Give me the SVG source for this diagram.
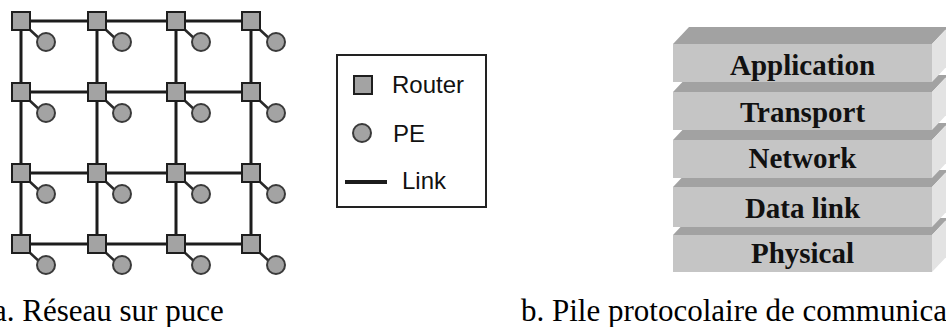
<svg xmlns="http://www.w3.org/2000/svg" width="946" height="327" viewBox="0 0 946 327">
<defs>
<style>
.link{stroke:#1c1c1c;stroke-width:3;fill:none}
.pel{stroke:#2a2a2a;stroke-width:2.5;fill:none}
.rt{fill:#a3a3a3;stroke:#1e1e1e;stroke-width:2}
.pe{fill:#a3a3a3;stroke:#3a3a3a;stroke-width:2}
.lg{font-family:"Liberation Sans",Arial,sans-serif;font-size:24px;fill:#111}
.cap{font-family:"Liberation Serif","Times New Roman",serif;font-size:31px;fill:#000}
.front{fill:#c5c5c5}
.top{fill:#a2a2a2}
.side{fill:#e3e3e3}
.lt{font-family:"Liberation Serif","Times New Roman",serif;font-size:29px;font-weight:bold;fill:#111;text-anchor:middle}
</style>
</defs>
<rect width="946" height="327" fill="#fff"/>
<g id="connectors">
<path class="link" d="M21 21H251M21 92H251M21 173H251M21 244H251M21 21V244M97 21V244M176 21V244M251 21V244"/>
<path class="pel" d="M28 28L41 40M104 28L117 40M183 28L196 40M258 28L271 40M28 99L41 111M104 99L117 111M183 99L196 111M258 99L271 111M28 180L41 192M104 180L117 192M183 180L196 192M258 180L271 192M28 251L41 263M104 251L117 263M183 251L196 263M258 251L271 263"/>
</g>
<g id="pes">
<circle class="pe" cx="46" cy="42" r="9"/><circle class="pe" cx="122" cy="42" r="9"/><circle class="pe" cx="201" cy="42" r="9"/><circle class="pe" cx="276" cy="42" r="9"/>
<circle class="pe" cx="46" cy="113" r="9"/><circle class="pe" cx="122" cy="113" r="9"/><circle class="pe" cx="201" cy="113" r="9"/><circle class="pe" cx="276" cy="113" r="9"/>
<circle class="pe" cx="46" cy="194" r="9"/><circle class="pe" cx="122" cy="194" r="9"/><circle class="pe" cx="201" cy="194" r="9"/><circle class="pe" cx="276" cy="194" r="9"/>
<circle class="pe" cx="46" cy="265" r="9"/><circle class="pe" cx="122" cy="265" r="9"/><circle class="pe" cx="201" cy="265" r="9"/><circle class="pe" cx="276" cy="265" r="9"/>
</g>
<g id="routers">
<rect class="rt" x="12" y="12" width="18" height="18"/><rect class="rt" x="88" y="12" width="18" height="18"/><rect class="rt" x="167" y="12" width="18" height="18"/><rect class="rt" x="242" y="12" width="18" height="18"/>
<rect class="rt" x="12" y="83" width="18" height="18"/><rect class="rt" x="88" y="83" width="18" height="18"/><rect class="rt" x="167" y="83" width="18" height="18"/><rect class="rt" x="242" y="83" width="18" height="18"/>
<rect class="rt" x="12" y="164" width="18" height="18"/><rect class="rt" x="88" y="164" width="18" height="18"/><rect class="rt" x="167" y="164" width="18" height="18"/><rect class="rt" x="242" y="164" width="18" height="18"/>
<rect class="rt" x="12" y="235" width="18" height="18"/><rect class="rt" x="88" y="235" width="18" height="18"/><rect class="rt" x="167" y="235" width="18" height="18"/><rect class="rt" x="242" y="235" width="18" height="18"/>
</g>
<g id="legend">
<rect x="337" y="55" width="149" height="152" fill="#fff" stroke="#222" stroke-width="2"/>
<rect class="rt" x="354" y="76" width="18" height="18"/>
<text class="lg" x="392" y="93">Router</text>
<circle class="pe" cx="362" cy="133" r="9"/>
<text class="lg" x="393" y="142">PE</text>
<line x1="345" y1="182" x2="387" y2="182" stroke="#1c1c1c" stroke-width="4"/>
<text class="lg" x="402" y="189">Link</text>
</g>
<g id="layer-physical">
<polygon class="top" points="673,235 689,218 948,218 932,235"/>
<polygon class="side" points="932,235 948,218 948,255 932,272"/>
<rect class="front" x="673" y="235" width="259" height="37"/>
<text class="lt" x="802.5" y="263">Physical</text>
</g>
<g id="layer-datalink">
<polygon class="top" points="673,187 689,170 948,170 932,187"/>
<polygon class="side" points="932,187 948,170 948,210 932,227"/>
<rect class="front" x="673" y="187" width="259" height="40"/>
<text class="lt" x="802.5" y="218">Data link</text>
</g>
<g id="layer-network">
<polygon class="top" points="673,140 689,123 948,123 932,140"/>
<polygon class="side" points="932,140 948,123 948,161 932,178"/>
<rect class="front" x="673" y="140" width="259" height="38"/>
<text class="lt" x="802.5" y="168">Network</text>
</g>
<g id="layer-transport">
<polygon class="top" points="673,92 689,75 948,75 932,92"/>
<polygon class="side" points="932,92 948,75 948,113 932,130"/>
<rect class="front" x="673" y="92" width="259" height="38"/>
<text class="lt" x="802.5" y="122">Transport</text>
</g>
<g id="layer-application">
<polygon class="top" points="673,44 689,27 948,27 932,44"/>
<polygon class="side" points="932,44 948,27 948,65 932,82"/>
<rect class="front" x="673" y="44" width="259" height="38"/>
<text class="lt" x="802.5" y="75">Application</text>
</g>
<g id="captions">
<text class="cap" x="-7" y="321">a. Réseau sur puce</text>
<text class="cap" x="521" y="321">b. Pile protocolaire de communica</text>
</g>
</svg>
